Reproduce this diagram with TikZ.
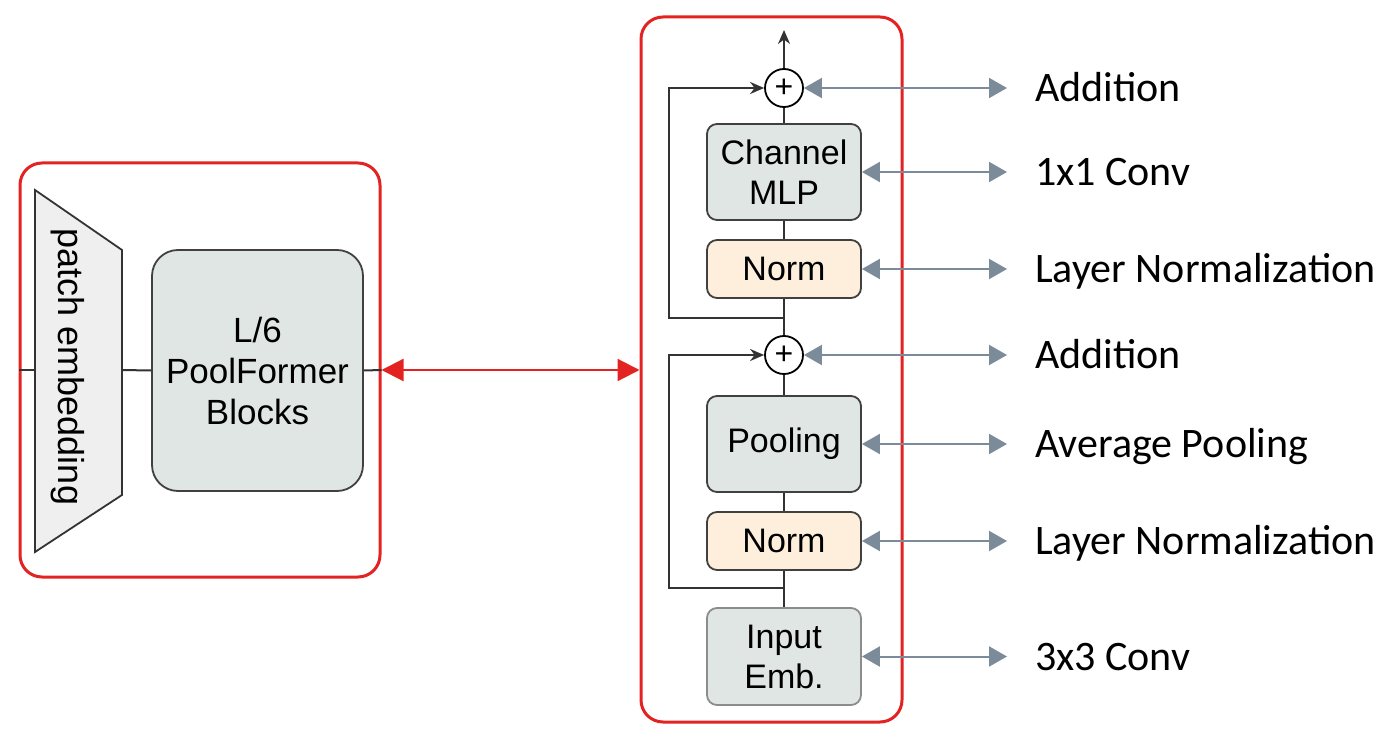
\documentclass[tikz,border=0pt]{standalone}
\usepackage{fontspec}
\setmainfont{Liberation Sans}
\newfontfamily\labfont{Carlito}
\usetikzlibrary{arrows.meta,positioning,calc}
\definecolor{framered}{HTML}{E32322}
\definecolor{blockgray}{HTML}{E0E6E3}
\definecolor{normtan}{HTML}{FDEFDC}
\definecolor{slate}{HTML}{7B8B99}
\definecolor{patchgray}{HTML}{EFEFEF}

\begin{document}
\begin{tikzpicture}[x=1pt,y=-1pt,
    frame/.style={draw=framered, line width=3pt, rounded corners=22pt},
    blk/.style={draw=black!75, line width=1.8pt, rounded corners=10pt, fill=blockgray,
      minimum width=154pt, align=center, inner sep=0pt, font=\fontsize{34}{40}\selectfont},
    normblk/.style={blk, fill=normtan, minimum height=58pt},
    addnode/.style={circle, draw=black, line width=1.8pt, fill=white, minimum size=38pt,
      inner sep=0pt, font=\fontsize{32}{32}\selectfont},
    lab/.style={anchor=west, inner sep=0pt, text height=27pt, text depth=0pt,
      font=\labfont\fontsize{42}{46}\selectfont},
    wire/.style={draw=black!80, line width=2pt},
    fwd/.style={wire, -{Stealth[length=14pt,width=12pt]}},
    garr/.style={draw=slate, line width=2pt, {Triangle[length=18pt,width=20pt]}-{Triangle[length=18pt,width=20pt]}},
    redarr/.style={draw=framered, line width=2.2pt, {Triangle[length=22pt,width=22pt]}-{Triangle[length=22pt,width=22pt]}}
  ]
  \useasboundingbox (0,0) rectangle (1400,746);

  % left part
  \node[frame, minimum width=360pt, minimum height=414pt] (leftframe) at (200,370) {};
  \draw[draw=black!80, line width=1.8pt, fill=patchgray]
    (35,190) -- (122,250) -- (122,495) -- (35,552) -- cycle;
  \coordinate (pe-l) at (35,370);
  \coordinate (pe-r) at (122,370);
  \node[rotate=-90, font=\fontsize{36}{40}\selectfont] (pe) at (68,367) {patch embedding};
  \node[blk, rounded corners=26pt, minimum width=211pt, minimum height=241pt,
    font=\fontsize{35}{41}\selectfont] (blocks) at (257.5,370.5) {L/6\\PoolFormer\\Blocks};
  \draw[wire] (leftframe.west) -- (pe-l);
  \draw[wire] (pe-r) -- (blocks.west);
  \draw[wire] (blocks.east) -- (leftframe.east);

  % right part
  \node[frame, minimum width=261pt, minimum height=705pt] (rightframe) at (771.5,369.5) {};
  \node[addnode] (add1) at (784,88) {+};
  \node[blk, minimum height=96pt] (mlp) at (784,172) {Channel\\MLP};
  \node[normblk] (norm1) at (784,269) {Norm};
  \node[addnode] (add2) at (784,355) {+};
  \node[blk, minimum height=96pt] (pool) at (784,444) {Pooling};
  \node[normblk] (norm2) at (784,541) {Norm};
  \node[blk, draw=black!45, minimum height=97pt] (inemb) at (784,656.5) {Input\\Emb.};
  \coordinate (out) at (784,30);
  \coordinate (sk1) at (784,318);
  \coordinate (sk2) at (784,588);

  \draw[fwd] (add1) -- (out);
  \draw[wire] (add1) -- (mlp);
  \draw[wire] (mlp) -- (norm1);
  \draw[wire] (norm1) -- (add2);
  \draw[wire] (add2) -- (pool);
  \draw[wire] (pool) -- (norm2);
  \draw[wire] (norm2) -- (inemb);
  \draw[fwd] (sk1) -- ++(-115,0) |- (add1.west);
  \draw[fwd] (sk2) -- ++(-115,0) |- (add2.west);

  % link between parts
  \draw[redarr] (leftframe.east) -- (leftframe.east -| rightframe.west);

  % labels
  \coordinate (lx) at (1035,0);
  \node[lab] (lab1) at (add1 -| lx) {Addition};
  \node[lab] (lab2) at (mlp -| lx) {1x1 Conv};
  \node[lab] (lab3) at (norm1 -| lx) {Layer Normalization};
  \node[lab] (lab4) at (add2 -| lx) {Addition};
  \node[lab] (lab5) at (pool -| lx) {Average Pooling};
  \node[lab] (lab6) at (norm2 -| lx) {Layer Normalization};
  \node[lab] (lab7) at (inemb -| lx) {3x3 Conv};
  \foreach \src/\dst in {add1/lab1, mlp/lab2, norm1/lab3, add2/lab4, pool/lab5, norm2/lab6, inemb/lab7}
    \draw[garr, shorten >=28pt] (\src.east) -- (\dst.west);
\end{tikzpicture}
\end{document}
